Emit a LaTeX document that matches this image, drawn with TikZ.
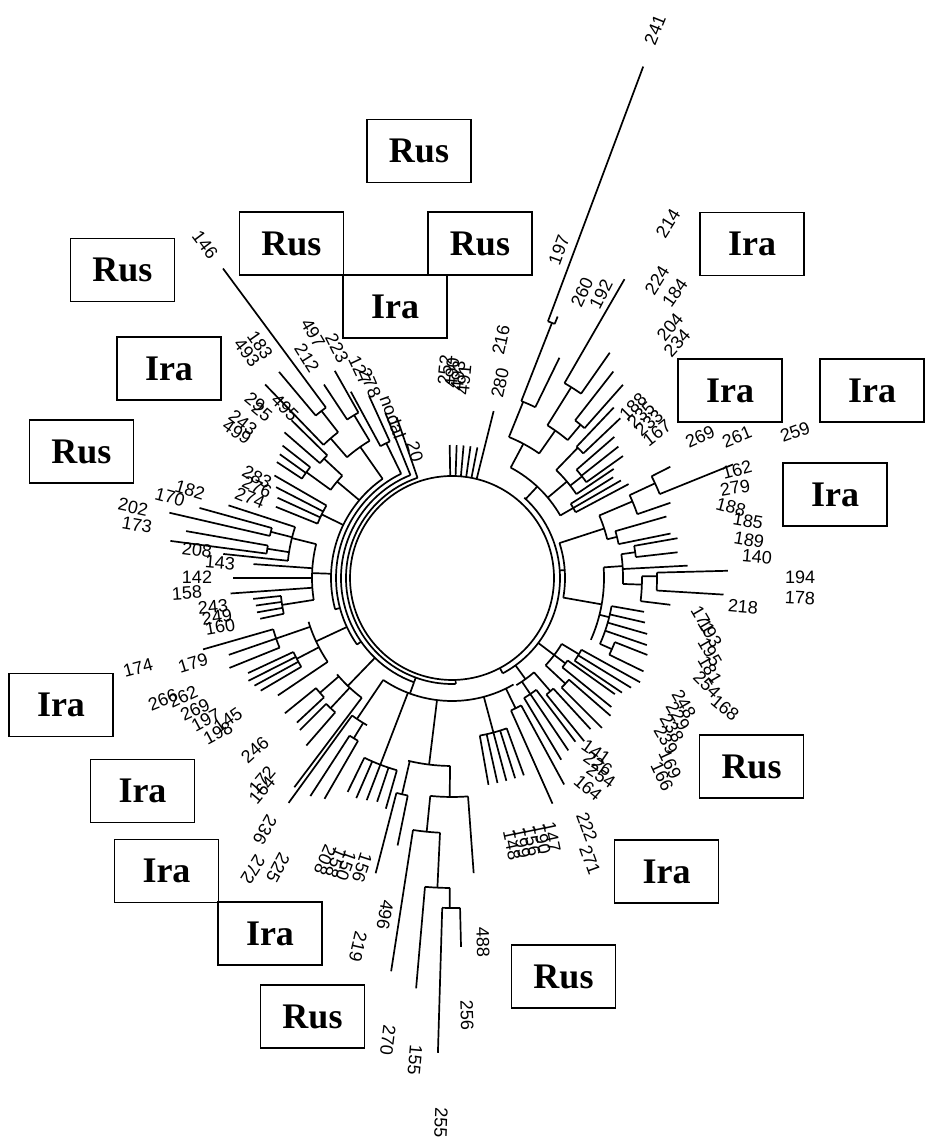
\documentclass[tikz,border=0pt]{standalone}
\usepackage{fontspec}
\setmainfont{Liberation Sans}
\newfontfamily\boxfont{Liberation Serif}
\tikzset{
  br/.style={line width=0.85pt},
  lab/.style={font=\fontsize{9}{9}\selectfont, inner sep=0pt},
  tag/.style={draw, line width=0.9pt, minimum width=52pt, minimum height=31.5pt, inner sep=0pt, font=\boxfont\bfseries\fontsize{18}{18}\selectfont},
}
\newcommand\Lf[3]{\draw[br] (#1:#2) -- (#1:#3);}
\newcommand\Ac[3]{\draw[br] (#1:#3) arc[start angle=#1,end angle=#2,radius=#3];}
\newcommand\Nd[5]{\Lf{#1}{#2}{#3}\Ac{#4}{#5}{#3}}
\newcommand\IRA{Ira\hspace{9pt}}
\begin{document}
\begin{tikzpicture}[x=0.5pt,y=0.5pt]
\useasboundingbox (0,0) rectangle (927,1143);
\begin{scope}[shift={(452,565)}]
% backbone
\draw[br] (0,0) circle[radius=102];
\Ac{109}{272}{106} \Lf{272}{102}{106}
\Ac{112}{250}{111} \Lf{250}{106}{111}
\Ac{116}{215}{116} \Lf{215}{111}{116}
\Ac{125}{195}{121} \Lf{195}{116}{121}
\Ac{-62}{48}{108}  \Lf{-62}{102}{108}
\Ac{-10}{18}{113}  \Lf{4}{108}{113}
% top fan
\foreach \a in {91,88,85,82,79} {\Lf{\a}{102}{133}}
\Lf{76}{102}{172}
% top-left
\Lf{109}{106}{170}
\Lf{112}{111}{178}
\Nd{116}{116}{150}{114.5}{118.5} \Lf{114.5}{150}{200} \Lf{118.5}{150}{212}
\Nd{125}{121}{160}{121}{131}
\Nd{121}{160}{190}{119.5}{123.5} \Lf{119.5}{190}{238} \Lf{123.5}{190}{232}
\Nd{131}{160}{185}{128}{134}
\Nd{128}{185}{212}{126.5}{130} \Lf{126.5}{212}{385} \Lf{130}{212}{269}
\Lf{134}{185}{269}
\Nd{140}{121}{150}{137}{144}
\Nd{137}{150}{175}{135.5}{139} \Lf{135.5}{175}{225} \Lf{139}{175}{222}
\Nd{144}{150}{180}{142}{146.5} \Lf{142}{180}{215} \Lf{144.3}{180}{212} \Lf{146.5}{180}{210}
\Nd{154}{121}{145}{150}{158} \Lf{150}{145}{205} \Lf{152.7}{145}{198} \Lf{155.3}{145}{192} \Lf{158}{145}{190}
% left
\Nd{178}{121}{140}{166}{189}
\Nd{166}{140}{165}{162}{174}
\Lf{162}{165}{235}
\Nd{165.7}{165}{187}{164.5}{167} \Lf{164.5}{187}{262} \Lf{167}{187}{290}
\Nd{171}{165}{187}{170}{172.5} \Lf{170}{187}{270} \Lf{172.5}{187}{284}
\Lf{174}{165}{230}
\Lf{176}{140}{199}
\Lf{180}{140}{219}
\Lf{184}{140}{222}
\Nd{189}{140}{172}{186}{192} \Lf{186}{172}{200} \Lf{188}{172}{198} \Lf{190}{172}{198} \Lf{192}{172}{196}
% lower-left
\Nd{205}{116}{150}{197}{214}
\Nd{199}{150}{186}{196}{202} \Lf{196}{186}{259} \Lf{199}{186}{236} \Lf{202}{186}{240}
\Nd{207.5}{150}{175}{205}{210.5} \Lf{205}{175}{225} \Lf{206.8}{175}{228} \Lf{208.6}{175}{225} \Lf{210.5}{175}{222}
\Lf{214}{150}{210}
\Nd{226}{111}{150}{220}{233}
\Nd{221}{150}{175}{219}{223} \Lf{219}{175}{215} \Lf{223}{175}{212}
\Nd{227}{150}{178}{225}{229} \Lf{225}{178}{215} \Lf{229}{178}{222}
\Lf{233}{150}{262}
% bottom
\Nd{250}{111}{123}{236}{300}
\Nd{236}{123}{170}{234}{240} \Lf{234}{170}{278}
\Nd{238.5}{170}{188}{237}{240} \Lf{237}{188}{260} \Lf{240}{188}{255}
\Nd{249}{123}{200}{244}{254} \Lf{244}{200}{238} \Lf{246.5}{200}{240} \Lf{249}{200}{238} \Lf{251.5}{200}{236} \Lf{254}{200}{240}
\Lf{263}{123}{188} \Ac{256.5}{269.4}{188}
\Nd{257}{188}{222}{255.5}{258.5} \Lf{255.5}{222}{305} \Lf{258.5}{222}{273}
\Nd{269.4}{188}{219}{264.3}{274.2}
\Lf{274.2}{219}{296}
\Nd{264.3}{219}{255}{261.2}{267.3}
\Lf{261.2}{255}{398}
\Nd{267.3}{255}{310}{265}{269.6}
\Lf{265}{310}{412}
\Nd{269.6}{310}{330}{268.3}{271.4}
\Lf{268.3}{330}{475}
\Lf{271.4}{330}{369}
\Nd{285}{123}{160}{280}{290} \foreach \a in {280,282.5,285,287.5,290} {\Lf{\a}{160}{210}}
\Nd{296}{123}{145}{294}{298.5} \Lf{294}{145}{247} \Lf{298.5}{145}{235}
% top-right
\Nd{47}{108}{125}{30}{62}
\Nd{62}{125}{152}{55}{68}
\Nd{68}{152}{190}{64}{68.6}
\Nd{68.6}{190}{274}{68}{69.5} \Lf{69.5}{274}{546} \Lf{68}{274}{282}
\Lf{64}{190}{245}
\Nd{55}{152}{180}{50}{58}
\Nd{58}{180}{225}{55}{60} \Lf{60}{225}{345} \Lf{55}{225}{275}
\Nd{50}{180}{200}{48.5}{52} \Lf{52}{200}{262} \Lf{48.5}{200}{258}
\Nd{40}{125}{150}{34}{46}
\Nd{46}{150}{181}{43.5}{46.5} \Lf{46.5}{181}{235} \Lf{43.5}{181}{232}
\Nd{38}{150}{165}{35.5}{41} \Lf{41}{165}{215} \Lf{38.3}{165}{212} \Lf{35.5}{165}{210}
\Lf{34}{150}{195}
\Nd{30}{125}{140}{28}{32} \Lf{32}{140}{190} \Lf{30}{140}{195} \Lf{28}{140}{200}
% right
\Nd{18}{113}{160}{14}{23}
\Nd{23}{160}{196}{19}{25}
\Nd{25}{196}{224}{22}{27} \Lf{22}{224}{303} \Lf{27}{224}{245}
\Lf{19}{196}{231}
\Nd{14}{160}{170}{11.5}{16} \Lf{16}{170}{223} \Lf{11.5}{170}{223}
\Nd{-10}{113}{152}{-24}{4}
\Nd{4}{152}{171}{-2}{8}
\Nd{8}{171}{185}{6.5}{10} \Lf{10}{185}{229} \Lf{6.5}{185}{227}
\Lf{3}{171}{236}
\Nd{-2}{171}{190}{-7}{0.5}
\Nd{0.5}{190}{205}{-3.5}{1.5} \Lf{1.5}{205}{276} \Lf{-3.5}{205}{272}
\Lf{-7}{190}{220}
\Nd{-14}{152}{162}{-24}{-10} \Lf{-10}{162}{195} \Lf{-13}{162}{198} \Lf{-16}{162}{203} \Lf{-19}{162}{206}
\Nd{-24}{162}{175}{-26}{-21.5} \Lf{-21.5}{175}{210} \Lf{-26}{175}{213}
% lower-right
\Nd{-37}{108}{128}{-43}{-31}
\Nd{-31}{128}{148}{-34}{-29} \Lf{-29}{148}{215} \Lf{-31.5}{148}{210} \Lf{-34}{148}{205}
\Nd{-37}{128}{142}{-39}{-35.5} \Lf{-35.5}{142}{200} \Lf{-39}{142}{205}
\Nd{-43}{128}{155}{-45}{-41} \Lf{-41}{155}{210} \Lf{-45}{155}{212}
\Nd{-54}{108}{125}{-59}{-49}
\Nd{-49}{125}{150}{-51}{-47.5} \Lf{-47.5}{150}{205} \Lf{-51}{150}{210}
\Nd{-56}{125}{140}{-59}{-53} \Lf{-53}{140}{205} \Lf{-56}{140}{208} \Lf{-59}{140}{212}
\end{scope}
% boxes
\node[tag] (bRusTop) at (419,992) {Rus};
\node[tag] (bRusLM) at (291.5,899.5) {Rus};
\node[tag] (bRusRM) at (480,899.5) {Rus};
\node[tag] (bIraM) at (395,836.5) {\IRA};
\node[tag] (bIraTR) at (752,899) {\IRA};
\node[tag] (bIraR1) at (730,752.5) {\IRA};
\node[tag] (bIraR2) at (872,752.5) {\IRA};
\node[tag] (bIraR3) at (835,648.5) {\IRA};
\node[tag] (bRusR) at (751.5,376.5) {Rus};
\node[tag] (bIraRL) at (666.5,271.5) {\IRA};
\node[tag] (bRusBR) at (563.5,166.5) {Rus};
\node[tag] (bRusBL) at (312.5,126.5) {Rus};
\node[tag] (bIraB2) at (270,209.5) {\IRA};
\node[tag] (bIraB1) at (166.5,272) {\IRA};
\node[tag] (bIraL3) at (142.5,352) {\IRA};
\node[tag] (bIraL2) at (61,438) {\IRA};
\node[tag] (bRusL2) at (81.5,691.5) {Rus};
\node[tag] (bIraL1) at (169,774.5) {\IRA};
\node[tag] (bRusL1) at (122.5,873) {Rus};
% labels
\node[lab,rotate=85] (n252) at (445,773) {252};
\node[lab,rotate=85] (n490) at (452,770) {490};
\node[lab,rotate=85] (n493) at (458,767) {493};
\node[lab,rotate=85] (n491) at (464,763) {491};
\node[lab,rotate=78] (n280) at (500,760) {280};
\node[lab,rotate=78] (n216) at (501,803) {216};
\node[lab,rotate=68] (n241) at (655,1113) {241};
\node[lab,rotate=70] (n197) at (559,893) {197};
\node[lab,rotate=65] (n260) at (582,851) {260};
\node[lab,rotate=63] (n192) at (601,849) {192};
\node[lab,rotate=58] (n214) at (668,920) {214};
\node[lab,rotate=58] (n224) at (657,863) {224};
\node[lab,rotate=55] (n184) at (675,850) {184};
\node[lab,rotate=50] (n204) at (670,816) {204};
\node[lab,rotate=48] (n234) at (677,800) {234};
\node[lab,rotate=45] (n188a) at (633,736) {188};
\node[lab,rotate=43] (n235) at (641,728) {235};
\node[lab,rotate=41] (n233) at (649,720) {233};
\node[lab,rotate=38] (n167) at (657,710) {167};
\node[lab,rotate=25] (n269a) at (700,706) {269};
\node[lab,rotate=22] (n261) at (737,706) {261};
\node[lab,rotate=20] (n259) at (795,711) {259};
\node[lab,rotate=15] (n162) at (737,673) {162};
\node[lab,rotate=10] (n279) at (735,655) {279};
\node[lab,rotate=-15] (n188b) at (731,636) {188};
\node[lab,rotate=-10] (n185) at (748,622) {185};
\node[lab,rotate=-10] (n189) at (749,603) {189};
\node[lab,rotate=-5] (n140) at (757,586) {140};
\node[lab] (n194) at (800,566) {194};
\node[lab,rotate=-3] (n178) at (800,545) {178};
\node[lab,rotate=-5] (n218) at (743,536) {218};
\node[lab,rotate=-60] (n171) at (703,523) {171};
\node[lab,rotate=-60] (n193) at (710,510) {193};
\node[lab,rotate=-60] (n195) at (710,491) {195};
\node[lab,rotate=-60] (n181) at (710,473) {181};
\node[lab,rotate=-45] (n254a) at (707,458) {254};
\node[lab,rotate=-40] (n168) at (725,435) {168};
\node[lab,rotate=-60] (n248) at (684,439) {248};
\node[lab,rotate=-60] (n229) at (678,427) {229};
\node[lab,rotate=-60] (n238) at (672,415) {238};
\node[lab,rotate=-60] (n239) at (666,403) {239};
\node[lab,rotate=-65] (n169) at (670,379) {169};
\node[lab,rotate=-65] (n166) at (662,367) {166};
\node[lab,rotate=-35] (n141) at (596,391) {141};
\node[lab,rotate=-35] (n226) at (598,379) {226};
\node[lab,rotate=-35] (n254b) at (601,367) {254};
\node[lab,rotate=-40] (n164a) at (588,355) {164};
\node[lab,rotate=-70] (n222) at (587,316) {222};
\node[lab,rotate=-70] (n271) at (590,283) {271};
\node[lab,rotate=-78] (n147) at (552,306) {147};
\node[lab,rotate=-78] (n190) at (542,304) {190};
\node[lab,rotate=-78] (n156a) at (532,302) {156};
\node[lab,rotate=-78] (n199) at (522,300) {199};
\node[lab,rotate=-78] (n148) at (512,298) {148};
\node[lab,rotate=-88] (n488) at (483,201) {488};
\node[lab,rotate=-88] (n256) at (467,128) {256};
\node[lab,rotate=-92] (n255) at (441,20) {255};
\node[lab,rotate=-95] (n155) at (415,83) {155};
\node[lab,rotate=-97] (n270) at (388,103) {270};
\node[lab,rotate=-100] (n496) at (385,228) {496};
\node[lab,rotate=-103] (n219) at (358,196) {219};
\node[lab,rotate=-108] (n156b) at (362,275) {156};
\node[lab,rotate=-110] (n150a) at (346,277) {150};
\node[lab,rotate=-112] (n158a) at (336,280) {158};
\node[lab,rotate=-114] (n208a) at (325,283) {208};
\node[lab,rotate=-118] (n225) at (278,275) {225};
\node[lab,rotate=-122] (n272) at (253,273) {272};
\node[lab,rotate=-120] (n236) at (265,313) {236};
\node[lab,rotate=50] (n172) at (262,363) {172};
\node[lab,rotate=50] (n164b) at (262,353) {164};
\node[lab,rotate=42] (n246) at (255,393) {246};
\node[lab,rotate=35] (n145) at (228,423) {145};
\node[lab,rotate=28] (n198) at (218,410) {198};
\node[lab,rotate=28] (n197b) at (206,423) {197};
\node[lab,rotate=25] (n269b) at (195,433) {269};
\node[lab,rotate=25] (n262) at (183,446) {262};
\node[lab,rotate=22] (n266) at (163,443) {266};
\node[lab,rotate=17] (n179) at (193,480) {179};
\node[lab,rotate=15] (n174) at (138,475) {174};
\node[lab,rotate=10] (n160) at (220,516) {160};
\node[lab,rotate=8] (n249) at (217,526) {249};
\node[lab,rotate=6] (n243a) at (213,536) {243};
\node[lab,rotate=4] (n158b) at (187,550) {158};
\node[lab] (n142) at (197,566) {142};
\node[lab,rotate=-5] (n143) at (220,580) {143};
\node[lab,rotate=-7] (n208b) at (197,593) {208};
\node[lab,rotate=-10] (n173) at (137,618) {173};
\node[lab,rotate=-12] (n202) at (133,636) {202};
\node[lab,rotate=-15] (n170) at (170,646) {170};
\node[lab,rotate=-17] (n182) at (190,653) {182};
\node[lab,rotate=-22] (n274) at (250,645) {274};
\node[lab,rotate=-25] (n276) at (257,656) {276};
\node[lab,rotate=-28] (n283) at (257,666) {283};
\node[lab,rotate=-35] (n499) at (237,711) {499};
\node[lab,rotate=-38] (n243b) at (243,720) {243};
\node[lab,rotate=-40] (n25) at (262,731) {25};
\node[lab,rotate=-40] (n29) at (255,741) {29};
\node[lab,rotate=-45] (n495) at (285,735) {495};
\node[lab,rotate=-52] (n493b) at (247,790) {493};
\node[lab,rotate=-55] (n183) at (260,798) {183};
\node[lab,rotate=-53] (n146) at (205,898) {146};
\node[lab,rotate=-58] (n212) at (307,785) {212};
\node[lab,rotate=-60] (n497) at (313,810) {497};
\node[lab,rotate=-63] (n223) at (337,795) {223};
\node[lab,rotate=-65] (n127) at (360,773) {127};
\node[lab,rotate=-67] (n278) at (370,760) {278};
\node[lab,rotate=-70] (nnodal) at (393,726) {nodal};
\node[lab,rotate=-75] (n20) at (415,691) {20};
\end{tikzpicture}
\end{document}
